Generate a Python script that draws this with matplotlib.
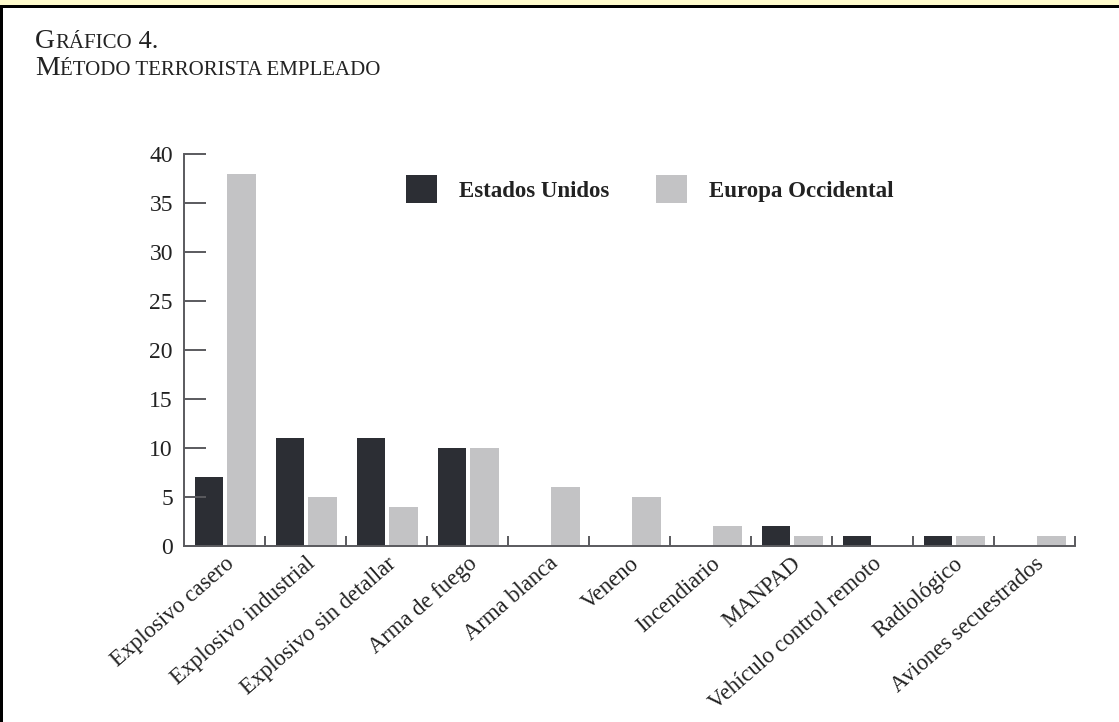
import matplotlib
matplotlib.use("Agg")
import matplotlib.pyplot as plt
from matplotlib.patches import Rectangle
import numpy as np

# data
categorias = ["Explosivo casero", "Explosivo industrial", "Explosivo sin detallar",
              "Arma de fuego", "Arma blanca", "Veneno", "Incendiario", "MANPAD",
              "Vehículo control remoto", "Radiológico", "Aviones secuestrados"]
estados_unidos = [7, 11, 11, 10, 0, 0, 0, 2, 1, 1, 0]
europa_occidental = [38, 5, 4, 10, 6, 5, 2, 1, 0, 1, 1]
yticks = [0, 5, 10, 15, 20, 25, 30, 35, 40]

W, H = 1119, 722
c_dark = "#2c2e34"
c_light = "#c3c3c5"
c_axis = "#5a5a5e"
c_text = "#222222"

plt.rcParams["font.family"] = ["Liberation Serif", "DejaVu Serif"]

fig = plt.figure(figsize=(W / 100, H / 100), dpi=100)
fig.patch.set_facecolor("white")

# page frame: yellow strip on top, black border top and left
fig.patches.append(Rectangle((0, 1 - 5 / H), 1, 5 / H, transform=fig.transFigure,
                             facecolor="#fffbcc", edgecolor="none", zorder=0))
fig.patches.append(Rectangle((0, 1 - 8 / H), 1, 3 / H, transform=fig.transFigure,
                             facecolor="black", edgecolor="none", zorder=1))
fig.patches.append(Rectangle((0, 0), 3 / W, 1 - 5 / H, transform=fig.transFigure,
                             facecolor="black", edgecolor="none", zorder=1))

ax = fig.add_axes([184 / W, 1 - 546 / H, (1075 - 184) / W, (546 - 154) / H])

x = np.arange(len(categorias))
b1 = ax.bar(x + 0.31, estados_unidos, width=0.35, color=c_dark, label="Estados Unidos")
b2 = ax.bar(x + 0.71, europa_occidental, width=0.35, color=c_light, label="Europa Occidental")

ax.set_xlim(0, len(categorias))
ax.set_ylim(0, 40)

for s in ["top", "right"]:
    ax.spines[s].set_visible(False)
for s in ["left", "bottom"]:
    ax.spines[s].set_color(c_axis)
    ax.spines[s].set_linewidth(1.4)

ax.set_yticks(yticks)
ax.set_yticklabels([str(v) for v in yticks], fontsize=17, color=c_text)
ax.tick_params(axis="y", direction="in", length=16, width=1.4, color=c_axis, pad=8)

ax.set_xticks(x + 0.5)
ax.set_xticklabels(categorias, rotation=41, ha="right", va="top",
                   rotation_mode="anchor", fontsize=16.3, color=c_text)
ax.set_xticks(np.arange(1, len(categorias) + 1), minor=True)
ax.tick_params(axis="x", which="major", length=0, pad=5)
ax.tick_params(axis="x", which="minor", direction="in", length=7, width=1.4, color=c_axis)

fig.legend(handles=[b1, b2], loc="upper left", bbox_to_anchor=(395 / W, 1 - 164 / H),
           ncol=2, frameon=False, borderpad=0, handlelength=1.35, handleheight=1.45,
           handletextpad=0.95, columnspacing=2.05,
           prop={"family": "Liberation Serif", "size": 16.5, "weight": "bold"},
           labelcolor=c_text)


# title in small caps, built piece by piece
def small_caps(x0, y0, parts):
    fig.canvas.draw()
    r = fig.canvas.get_renderer()
    xp = x0
    for txt, size in parts:
        t = fig.text(xp / W, 1 - y0 / H, txt, fontsize=size, color=c_text,
                     ha="left", va="baseline")
        xp += t.get_window_extent(r).width


small_caps(35, 48, [("G", 20), ("RÁFICO", 15), (" 4.", 19)])
small_caps(35, 75, [("M", 20), ("ÉTODO TERRORISTA EMPLEADO", 15)])

fig.savefig("out.png", dpi=100)
